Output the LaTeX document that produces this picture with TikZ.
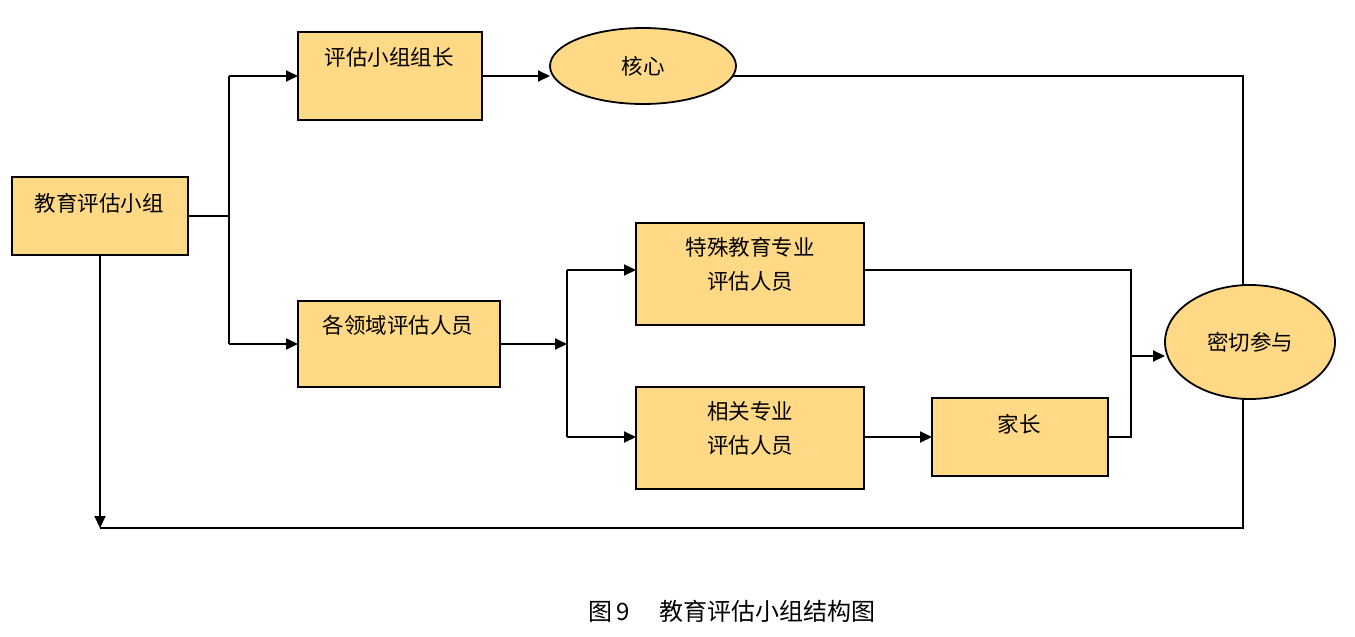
\documentclass[tikz,border=0pt]{standalone}
\usepackage{fontspec}
\setmainfont{Noto Sans CJK SC}
\usetikzlibrary{arrows.meta,shapes.geometric}
\pgfdeclarelayer{background}
\pgfsetlayers{background,main}
\definecolor{boxfill}{HTML}{FFD985}
\tikzset{
  box/.style={draw=black,line width=2pt,fill=boxfill,inner sep=0pt,outer sep=0pt},
  oval/.style={ellipse,draw=black,line width=1.8pt,fill=boxfill,inner sep=0pt,outer sep=0pt},
  lbl/.style={font=\fontsize{21.5}{34}\selectfont,align=center,inner sep=0pt},
  line/.style={line width=2pt},
  arr/.style={line width=2pt,-{Triangle[length=12pt,width=11pt]}},
}
\begin{document}
\begin{tikzpicture}[x=1pt,y=-1pt]
\useasboundingbox (0,0) rectangle (1355,637);
% boxes
\node[box,minimum width=176pt,minimum height=78pt] (A) at (100,216) {};
\node[box,minimum width=184pt,minimum height=88pt] (B) at (390,76) {};
\node[oval,minimum width=186pt,minimum height=76pt] (C) at (643,66) {};
\node[box,minimum width=202pt,minimum height=86pt] (D) at (399,344) {};
\node[box,minimum width=228pt,minimum height=102pt] (E) at (750,274) {};
\node[box,minimum width=228pt,minimum height=102pt] (F) at (750,438) {};
\node[box,minimum width=176pt,minimum height=78pt] (G) at (1020,437) {};
\node[oval,minimum width=170pt,minimum height=114pt] (H) at (1250,342) {};
% labels
\node[lbl] (tA) at (99,203) {教育评估小组};
\node[lbl] (tB) at (389,57) {评估小组组长};
\node[lbl] (tC) at (643,66) {核心};
\node[lbl] (tD) at (398,325) {各领域评估人员};
\node[lbl] (tE) at (750,264) {特殊教育专业\\评估人员};
\node[lbl] (tF) at (750,428) {相关专业\\评估人员};
\node[lbl] (tG) at (1019,424) {家长};
\node[lbl] (tH) at (1250,342) {密切参与};
\node[lbl,font=\fontsize{24}{28}\selectfont] (cap) at (732,611) {图\,9\hspace{1.2em}教育评估小组结构图};
% junction coordinates
\coordinate (j1) at (229,216);
\coordinate (j1t) at (229,76);
\coordinate (j1b) at (229,344);
\coordinate (k1) at (1243,76);
\coordinate (k2) at (1243,528);
\coordinate (k3) at (100,528);
\coordinate (m1) at (567,344);
\coordinate (m2) at (567,270);
\coordinate (m3) at (567,437);
\coordinate (n1) at (1131,270);
\coordinate (n2) at (1131,437);
\coordinate (n3) at (1131,356);
% connectors
\draw[line] (A.east) -- (j1);
\draw[line] (j1t) -- (j1b);
\draw[arr] (j1t) -- (B.west);
\draw[arr] (j1b) -- (D.west);
\draw[arr] (B.east) -- (B.east -| C.west);
\begin{pgfonlayer}{background}
\draw[line] (C.center |- k1) -- (k1) -- (k1 |- H.center);
\draw[line] (k1 |- H.center) -- (k2) -- (k3);
\end{pgfonlayer}
\draw[arr] (A.south) -- (k3);
\draw[arr] (D.east) -- (m1);
\draw[line] (m2) -- (m3);
\draw[arr] (m2) -- (m2 -| E.west);
\draw[arr] (m3) -- (m3 -| F.west);
\draw[line] (E.east |- n1) -- (n1) -- (n2) -- (G.east);
\draw[arr] (n3) -- (n3 -| H.west);
\draw[arr] (F.east |- G.west) -- (G.west);
\end{tikzpicture}
\end{document}
